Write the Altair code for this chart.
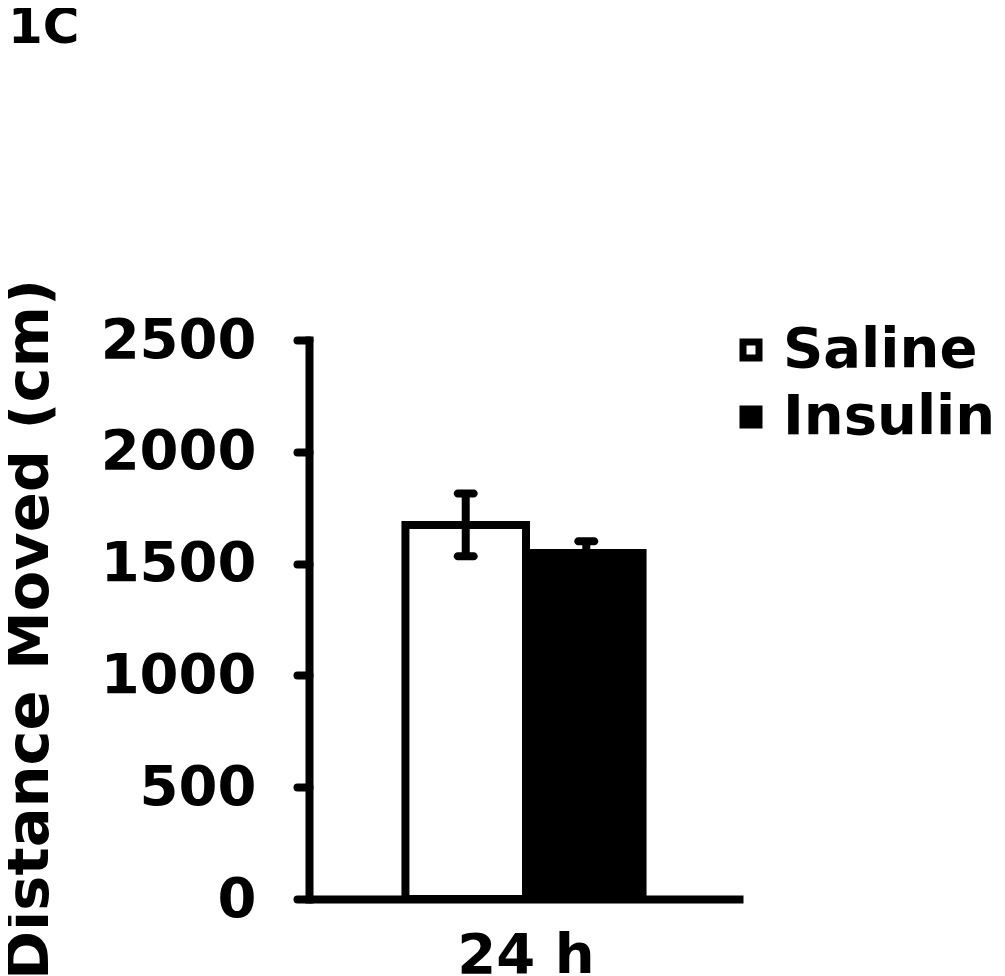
import altair as alt
import pandas as pd

# ---- data ----
time_labels = ["24 h", "24 h"]
groups = ["Saline", "Insulin"]
means = [1673, 1565]
sems = [140, 35]
y_ticks = [0, 500, 1000, 1500, 2000, 2500]
fill_colors = ["white", "black"]

df = pd.DataFrame({"time": time_labels, "group": groups, "mean": means, "sem": sems})
df["lo"] = df["mean"] - df["sem"]
df["hi"] = df["mean"] + df["sem"]

FONT = "DejaVu Sans"

x_enc = alt.X(
    "time:N",
    scale=alt.Scale(paddingInner=0, paddingOuter=0.4),
    axis=alt.Axis(
        title=None, labelAngle=0, ticks=False, tickSize=0,
        domainWidth=8, domainColor="black", domainCap="butt",
        labelFont=FONT, labelFontWeight="bold", labelFontSize=56,
        labelColor="black", labelPadding=29, labelBaseline="top",
    ),
)
xo_enc = alt.XOffset("group:N", sort=groups, scale=alt.Scale(paddingInner=0, paddingOuter=0))
y_scale = alt.Scale(domain=[0, 2500], nice=False, zero=True)
y_axis = alt.Axis(
    values=y_ticks, format="d", title="Distance Moved (cm)", grid=False,
    titleFont=FONT, titleFontWeight="bold", titleFontSize=59, titleColor="black",
    titleAngle=270, titleX=-280, titleY=289, titleAlign="center", titleBaseline="middle",
    labelFont=FONT, labelFontWeight="bold", labelFontSize=56, labelColor="black",
    labelPadding=41, labelOverlap=False,
    tickSize=12, tickWidth=8, tickColor="black", tickCap="round",
    domainWidth=8, domainColor="black", domainCap="square",
)

base = alt.Chart(df)

bars = base.mark_bar(stroke="black").encode(
    x=x_enc,
    xOffset=xo_enc,
    y=alt.Y("mean:Q", scale=y_scale, axis=y_axis),
    fill=alt.Fill(
        "group:N", sort=groups,
        scale=alt.Scale(domain=groups, range=fill_colors),
        legend=alt.Legend(
            title=None, orient="none", legendX=414, legendY=-18,
            symbolType="square", symbolSize=256, symbolStrokeColor="black",
            symbolStrokeWidth=7, labelFont=FONT, labelFontWeight="bold",
            labelFontSize=56, labelColor="black", labelOffset=4,
            rowPadding=11, padding=0, labelLimit=400,
        ),
    ),
    strokeWidth=alt.condition("datum.group == 'Saline'", alt.value(8), alt.value(0)),
)

err = base.mark_rule(color="black", strokeWidth=8).encode(
    x=alt.X("time:N"), xOffset=xo_enc, y=alt.Y("lo:Q", scale=y_scale), y2="hi:Q"
)
cap_hi = base.mark_tick(color="black", size=24, thickness=8, cornerRadius=4, orient="horizontal", opacity=1).encode(
    x=alt.X("time:N"), xOffset=xo_enc, y=alt.Y("hi:Q", scale=y_scale)
)
cap_lo = base.mark_tick(color="black", size=24, thickness=8, cornerRadius=4, orient="horizontal", opacity=1).encode(
    x=alt.X("time:N"), xOffset=xo_enc, y=alt.Y("lo:Q", scale=y_scale)
)

chart = alt.layer(bars, err, cap_hi, cap_lo).properties(
    width=434, height=559,
    padding={"left": 301, "top": 332, "right": 254, "bottom": 77},
    autosize=alt.AutoSizeParams(type="none"),
    background="white",
    title=alt.TitleParams(
        text="1C", anchor="start", frame="group", font=FONT, fontWeight="bold",
        fontSize=50, color="black", dx=-301, offset=176, baseline="bottom",
    ),
).configure_view(stroke=None)

chart.save("out.html", embed_options={"renderer": "svg", "actions": False})
